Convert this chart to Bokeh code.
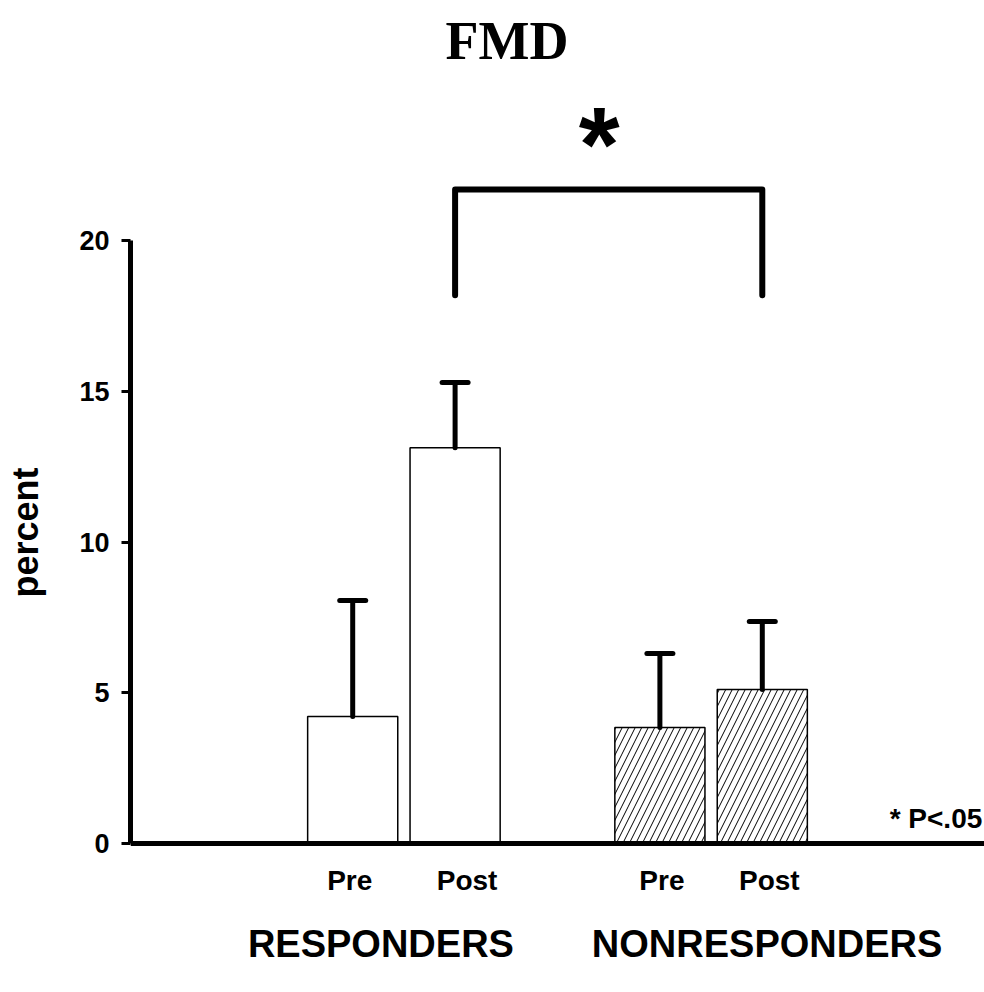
from bokeh.plotting import figure
from bokeh.models import (FactorRange, Range1d, ColumnDataSource, Whisker,
                          TeeHead, Span, FixedTicker)
from bokeh.core.properties import value
from bokeh.embed import file_html
from bokeh.resources import INLINE

# ---- data -------------------------------------------------------------
groups = ["RESPONDERS", "NONRESPONDERS"]
phases = ["Pre", "Post"]
means = [4.21, 13.13, 3.85, 5.11]          # FMD percent
sem = [3.85, 2.16, 2.45, 2.25]             # error bar (upper)
hatches = [" ", " ", "/", "/"]
y_ticks = [0, 5, 10, 15, 20]
bracket_y = [18.18, 21.69, 21.69, 18.18]
sig_mark = "*"
p_note = "* P<.05"
title_text = "FMD"
y_label = "percent"

factors = [(g, ph) for g in groups for ph in phases]
upper = [m + s for m, s in zip(means, sem)]

src = ColumnDataSource(dict(x=factors, top=means, upper=upper, hatch=hatches))

# ---- layout helpers (pixel geometry) -----------------------------------
W, H = 984, 992
frame_left, frame_top = 130, 72
zero_px, twenty_px = 843, 240
ppu = (zero_px - twenty_px) / 20.0
y_start = -(H - zero_px) / ppu
y_end = (zero_px - frame_top) / ppu

FONT = "Liberation Sans"

p = figure(width=W, height=H, output_backend="svg", toolbar_location=None,
           x_range=FactorRange(*factors, factor_padding=0.0, group_padding=1.0,
                               range_padding=1.67, range_padding_units="absolute"),
           y_range=Range1d(y_start, y_end),
           x_axis_location=None, title=title_text,
           min_border_left=frame_left, min_border_top=frame_top,
           min_border_right=0, min_border_bottom=0)
p.outline_line_color = None
p.grid.visible = False
p.background_fill_color = "white"
p.border_fill_color = "white"

p.title.text_font = "Liberation Serif"
p.title.text_font_size = "54px"
p.title.text_font_style = "bold"
p.title.text_color = "black"
p.title.align = "left"
p.title.offset = 315
p.title.standoff = 0
p.title.vertical_align = "top"

ax = p.yaxis[0]
ax.bounds = (0, 20)
ax.ticker = FixedTicker(ticks=y_ticks)
ax.axis_line_width = 5
ax.axis_line_color = "black"
ax.major_tick_out = 9
ax.major_tick_in = 0
ax.major_tick_line_width = 3
ax.major_tick_line_color = "black"
ax.minor_tick_out = 0
ax.minor_tick_in = 0
ax.major_label_text_font = FONT
ax.major_label_text_font_style = "bold"
ax.major_label_text_font_size = "27px"
ax.major_label_text_color = "black"
ax.major_label_standoff = 12
ax.axis_label = y_label
ax.axis_label_text_font = FONT
ax.axis_label_text_font_style = "bold"
ax.axis_label_text_font_size = "36px"
ax.axis_label_text_color = "black"
ax.axis_label_standoff = 30

# bars
p.vbar(x="x", top="top", width=0.88, source=src, fill_color="white",
       line_color="black", line_width=1.5, hatch_pattern="hatch",
       hatch_color="black", hatch_weight=1, hatch_scale=13)

# error bars
wh = Whisker(source=src, base="x", upper="upper", lower="top",
             dimension="height", line_width=5, line_color="black",
             line_cap="round", level="overlay",
             upper_head=TeeHead(size=26, line_width=5, line_color="black",
                                line_cap="round"),
             lower_head=None)
p.add_layout(wh)

# baseline
p.add_layout(Span(location=0, dimension="width", line_width=5, line_color="black"))

# significance bracket
bx = [factors[1], factors[1], factors[3], factors[3]]
p.line(x=bx, y=bracket_y, line_width=6, line_color="black",
       line_cap="round", line_join="round")
p.text(x=[factors[1]], y=[23.2], text=[sig_mark], x_offset=144,
       text_align="center", text_baseline="alphabetic",
       text_font=value(FONT), text_font_style="bold", text_font_size="105px",
       text_color="black")

# category labels
p.text(x=factors, y=[-1.23] * len(factors), text=[f[1] for f in factors],
       x_offset=[-3, 12, 2, 7], text_align="center", text_baseline="middle",
       text_font=value(FONT), text_font_style="bold", text_font_size="28px",
       text_color="black")
p.text(x=groups, y=[-3.32] * len(groups), text=groups, x_offset=[-23, 56],
       text_align="center", text_baseline="middle",
       text_font=value(FONT), text_font_style="bold", text_font_size="38px",
       text_color="black")

# p-value note
p.text(x=[factors[3]], y=[0.83], text=[p_note], x_offset=220,
       text_align="right", text_baseline="middle",
       text_font=value(FONT), text_font_style="bold", text_font_size="28px",
       text_color="black")

open("out.html", "w").write(file_html(p, INLINE))
